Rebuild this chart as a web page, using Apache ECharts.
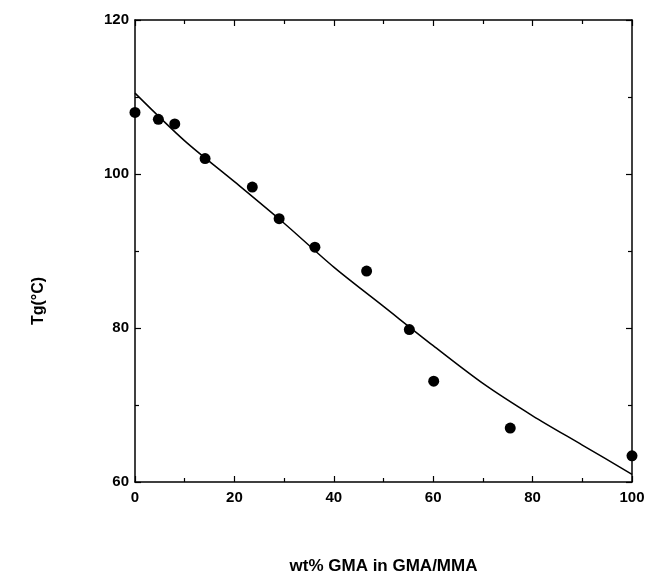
<!DOCTYPE html>
<html>
<head>
<meta charset="utf-8">
<script src="https://cdn.jsdelivr.net/npm/echarts@6/dist/echarts.min.js"></script>
<style>
    html, body { margin: 0; padding: 0; background: #fff; }
    #chart { width: 653px; height: 575px; }
</style>
</head>
<body>
<div id="chart"></div>
<script>
// measured points: wt% GMA vs Tg
var gmaWt = [0, 4.7, 8.0, 14.1, 23.6, 29.0, 36.2, 46.6, 55.2, 60.1, 75.5, 100];
var tgMeasured = [108.0, 107.1, 106.5, 102.0, 98.3, 94.2, 90.5, 87.4, 79.8, 73.1, 67.0, 63.4];

// fitted curve
var curveWt = [0, 10, 20, 30, 40, 50, 60, 70, 80, 90, 100];
var curveTg = [110.5, 104.3, 99.0, 93.6, 87.9, 82.8, 77.7, 72.8, 68.6, 64.8, 61.0];

var xTicks = [0, 20, 40, 60, 80, 100];
var yTicks = [60, 80, 100, 120];

(function () {
    var chart = echarts.init(document.getElementById('chart'));
    var font = 'Liberation Sans, Arial, sans-serif';

    function zip(a, b) {
        var out = [];
        for (var i = 0; i < a.length; i++) {
            out.push([a[i], b[i]]);
        }
        return out;
    }

    var lineStyle = { color: '#000', width: 1.5 };

    var baseX = {
        type: 'value',
        min: xTicks[0],
        max: xTicks[xTicks.length - 1],
        interval: 20,
        splitLine: { show: false },
        axisLine: { show: true, onZero: false, lineStyle: lineStyle },
        axisTick: { show: true, inside: true, length: 6, lineStyle: { color: '#000', width: 1.2 } },
        minorTick: { show: true, splitNumber: 2, length: 4, lineStyle: { color: '#000', width: 1.2 } }
    };
    var baseY = {
        type: 'value',
        min: yTicks[0],
        max: yTicks[yTicks.length - 1],
        interval: 20,
        splitLine: { show: false },
        axisLine: { show: true, onZero: false, lineStyle: lineStyle },
        axisTick: { show: true, inside: true, length: 6, lineStyle: { color: '#000', width: 1.2 } },
        minorTick: { show: true, splitNumber: 2, length: 4, lineStyle: { color: '#000', width: 1.2 } }
    };

    chart.setOption({
        backgroundColor: '#fff',
        animation: false,
        grid: { left: 135, right: 21, top: 20, bottom: 93, outerBoundsMode: 'none', containLabel: false },
        xAxis: [
            echarts.util.merge({
                position: 'bottom',
                name: 'wt% GMA in GMA/MMA',
                nameLocation: 'middle',
                nameGap: 76,
                nameTextStyle: { color: '#000', fontFamily: font, fontWeight: 'bold', fontSize: 17 },
                axisLabel: { color: '#000', fontFamily: font, fontWeight: 'bold', fontSize: 15, margin: 8 }
            }, baseX, true),
            echarts.util.merge({
                position: 'top',
                axisLabel: { show: false }
            }, baseX, true)
        ],
        yAxis: [
            echarts.util.merge({
                position: 'left',
                name: 'Tg(°C)',
                nameLocation: 'middle',
                nameGap: 88,
                nameRotate: 90,
                nameTextStyle: { color: '#000', fontFamily: font, fontWeight: 'bold', fontSize: 16, padding: [0, 100, 0, 0] },
                axisLabel: { color: '#000', fontFamily: font, fontWeight: 'bold', fontSize: 15, margin: 6 }
            }, baseY, true),
            echarts.util.merge({
                position: 'right',
                axisLabel: { show: false }
            }, baseY, true)
        ],
        series: [{
            type: 'line',
            data: zip(curveWt, curveTg),
            smooth: 0.3,
            showSymbol: false,
            lineStyle: { color: '#000', width: 1.5 },
            z: 2
        }, {
            type: 'scatter',
            data: zip(gmaWt, tgMeasured),
            symbol: 'circle',
            symbolSize: 11,
            itemStyle: { color: '#000', opacity: 1 },
            z: 3
        }]
    });
})();
</script>
</body>
</html>
